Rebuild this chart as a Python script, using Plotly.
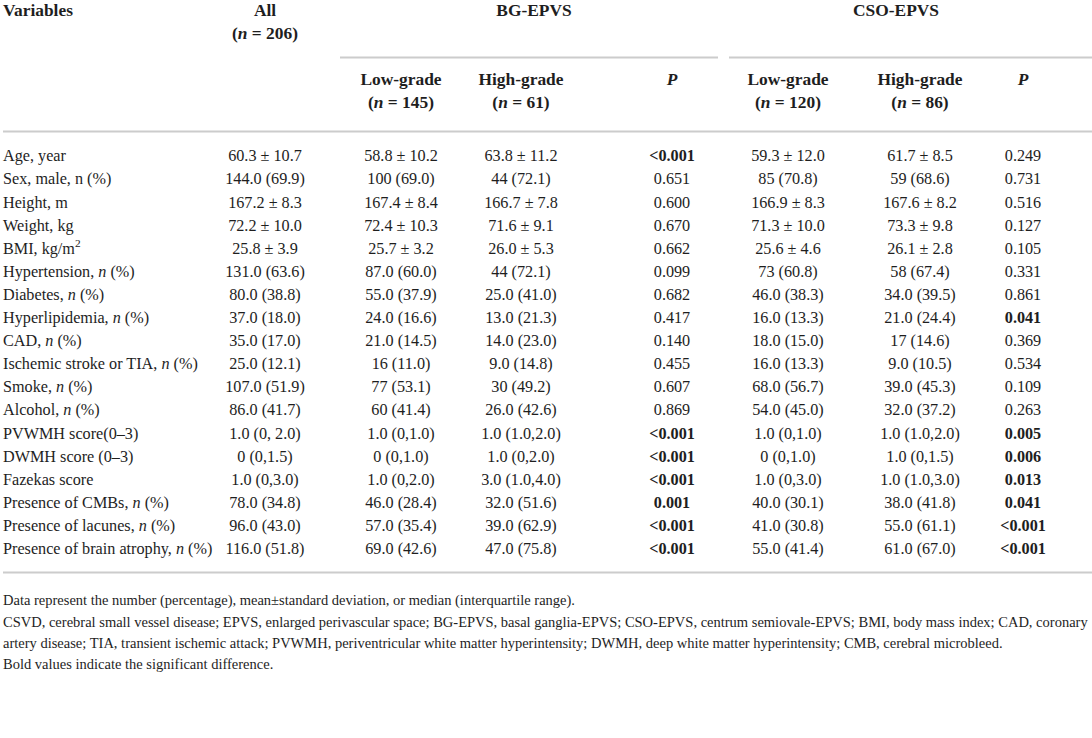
import plotly.graph_objects as go

# ---------------- data ----------------
variables = [
    "Age, year", "Sex, male, n (%)", "Height, m", "Weight, kg", "BMI, kg/m<sup>2</sup>",
    "Hypertension, <i>n</i> (%)", "Diabetes, <i>n</i> (%)", "Hyperlipidemia, <i>n</i> (%)",
    "CAD, <i>n</i> (%)", "Ischemic stroke or TIA, <i>n</i> (%)", "Smoke, <i>n</i> (%)",
    "Alcohol, <i>n</i> (%)", "PVWMH score(0–3)", "DWMH score (0–3)", "Fazekas score",
    "Presence of CMBs, <i>n</i> (%)", "Presence of lacunes, <i>n</i> (%)",
    "Presence of brain atrophy, <i>n</i> (%)",
]
all_vals = [
    "60.3 ± 10.7", "144.0 (69.9)", "167.2 ± 8.3", "72.2 ± 10.0", "25.8 ± 3.9",
    "131.0 (63.6)", "80.0 (38.8)", "37.0 (18.0)", "35.0 (17.0)", "25.0 (12.1)",
    "107.0 (51.9)", "86.0 (41.7)", "1.0 (0, 2.0)", "0 (0,1.5)", "1.0 (0,3.0)",
    "78.0 (34.8)", "96.0 (43.0)", "116.0 (51.8)",
]
bg_low = [
    "58.8 ± 10.2", "100 (69.0)", "167.4 ± 8.4", "72.4 ± 10.3", "25.7 ± 3.2",
    "87.0 (60.0)", "55.0 (37.9)", "24.0 (16.6)", "21.0 (14.5)", "16 (11.0)",
    "77 (53.1)", "60 (41.4)", "1.0 (0,1.0)", "0 (0,1.0)", "1.0 (0,2.0)",
    "46.0 (28.4)", "57.0 (35.4)", "69.0 (42.6)",
]
bg_high = [
    "63.8 ± 11.2", "44 (72.1)", "166.7 ± 7.8", "71.6 ± 9.1", "26.0 ± 5.3",
    "44 (72.1)", "25.0 (41.0)", "13.0 (21.3)", "14.0 (23.0)", "9.0 (14.8)",
    "30 (49.2)", "26.0 (42.6)", "1.0 (1.0,2.0)", "1.0 (0,2.0)", "3.0 (1.0,4.0)",
    "32.0 (51.6)", "39.0 (62.9)", "47.0 (75.8)",
]
bg_p = [
    "<0.001", "0.651", "0.600", "0.670", "0.662", "0.099", "0.682", "0.417",
    "0.140", "0.455", "0.607", "0.869", "<0.001", "<0.001", "<0.001", "0.001",
    "<0.001", "<0.001",
]
cso_low = [
    "59.3 ± 12.0", "85 (70.8)", "166.9 ± 8.3", "71.3 ± 10.0", "25.6 ± 4.6",
    "73 (60.8)", "46.0 (38.3)", "16.0 (13.3)", "18.0 (15.0)", "16.0 (13.3)",
    "68.0 (56.7)", "54.0 (45.0)", "1.0 (0,1.0)", "0 (0,1.0)", "1.0 (0,3.0)",
    "40.0 (30.1)", "41.0 (30.8)", "55.0 (41.4)",
]
cso_high = [
    "61.7 ± 8.5", "59 (68.6)", "167.6 ± 8.2", "73.3 ± 9.8", "26.1 ± 2.8",
    "58 (67.4)", "34.0 (39.5)", "21.0 (24.4)", "17 (14.6)", "9.0 (10.5)",
    "39.0 (45.3)", "32.0 (37.2)", "1.0 (1.0,2.0)", "1.0 (0,1.5)", "1.0 (1.0,3.0)",
    "38.0 (41.8)", "55.0 (61.1)", "61.0 (67.0)",
]
cso_p = [
    "0.249", "0.731", "0.516", "0.127", "0.105", "0.331", "0.861", "0.041",
    "0.369", "0.534", "0.109", "0.263", "0.005", "0.006", "0.013", "0.041",
    "<0.001", "<0.001",
]
group_labels = ["BG-EPVS", "CSO-EPVS"]
sub_labels = ["Low-grade", "High-grade", "<i>P</i>"]
all_n = 206
bg_n = [145, 61]
cso_n = [120, 86]
footnotes = [
    "Data represent the number (percentage), mean±standard deviation, or median (interquartile range).",
    "CSVD, cerebral small vessel disease; EPVS, enlarged perivascular space; BG-EPVS, basal ganglia-EPVS; CSO-EPVS, centrum semiovale-EPVS; BMI, body mass index; CAD, coronary",
    "artery disease; TIA, transient ischemic attack; PVWMH, periventricular white matter hyperintensity; DWMH, deep white matter hyperintensity; CMB, cerebral microbleed.",
    "Bold values indicate the significant difference.",
]

# ---------------- layout constants ----------------
FONT = "Liberation Serif"
TXT = "#1e1e1e"
LINE = "#cccccc"
BODY = 16.2
HEAD = 17.4
NOTE = 14.5
X_VAR, X_ALL, X_BGL, X_BGH, X_BGP, X_CSL, X_CSH, X_CSP = 3, 265, 401, 521, 672, 788, 920, 1023
X_BG, X_CS = 534, 896
ROW0, ROWSTEP = 157.3, 23.1


def is_sig(p):
    return p.startswith("<") or float(p) < 0.05


def boldify(ps):
    return [f"<b>{p}</b>" if is_sig(p) else p for p in ps]


def esc(s):
    return s.replace("<0", "&lt;0")


row_y = [ROW0 + i * ROWSTEP for i in range(len(variables))]

fig = go.Figure()


def add_col(x, texts, ys, pos="middle center", size=BODY):
    fig.add_trace(go.Scatter(
        x=[x] * len(texts), y=ys, mode="text", text=texts,
        textposition=pos, textfont=dict(family=FONT, size=size, color=TXT),
        hoverinfo="skip", showlegend=False,
    ))


# body
add_col(X_VAR, variables, row_y, pos="middle right")
add_col(X_ALL, all_vals, row_y)
add_col(X_BGL, bg_low, row_y)
add_col(X_BGH, bg_high, row_y)
add_col(X_BGP, [esc(t) for t in boldify(bg_p)], row_y)
add_col(X_CSL, cso_low, row_y)
add_col(X_CSH, cso_high, row_y)
add_col(X_CSP, [esc(t) for t in boldify(cso_p)], row_y)

# header
add_col(X_VAR, ["<b>Variables</b>"], [12], pos="middle right", size=HEAD)
add_col(X_ALL, ["<b>All</b>", f"<b>(<i>n</i> = {all_n})</b>"], [12, 35], size=HEAD)
add_col(X_BG, [f"<b>{group_labels[0]}</b>"], [12], size=HEAD)
add_col(X_CS, [f"<b>{group_labels[1]}</b>"], [12], size=HEAD)
for xs, ns in [((X_BGL, X_BGH, X_BGP), bg_n), ((X_CSL, X_CSH, X_CSP), cso_n)]:
    add_col(xs[0], [f"<b>{sub_labels[0]}</b>", f"<b>(<i>n</i> = {ns[0]})</b>"], [81, 104], size=HEAD)
    add_col(xs[1], [f"<b>{sub_labels[1]}</b>", f"<b>(<i>n</i> = {ns[1]})</b>"], [81, 104], size=HEAD)
    add_col(xs[2], [f"<b>{sub_labels[2]}</b>"], [81], size=HEAD)

# footnotes
add_col(X_VAR, footnotes, [601, 623.5, 644, 665], pos="middle right", size=NOTE)

# rules
for x0, x1, y in [(340, 718, 57.5), (729, 1092, 57.5), (3, 1092, 131.5), (3, 1092, 572.5)]:
    fig.add_shape(type="line", xref="x", yref="y", x0=x0, x1=x1, y0=y, y1=y,
                  line=dict(color=LINE, width=2))

fig.update_layout(
    width=1092, height=738, margin=dict(l=0, r=0, t=0, b=0),
    paper_bgcolor="white", plot_bgcolor="white",
    xaxis=dict(range=[0, 1092], visible=False, fixedrange=True),
    yaxis=dict(range=[738, 0], visible=False, fixedrange=True),
)
fig.write_html("out.html", config={"displayModeBar": False},
               post_script="document.body.style.margin='0';")
